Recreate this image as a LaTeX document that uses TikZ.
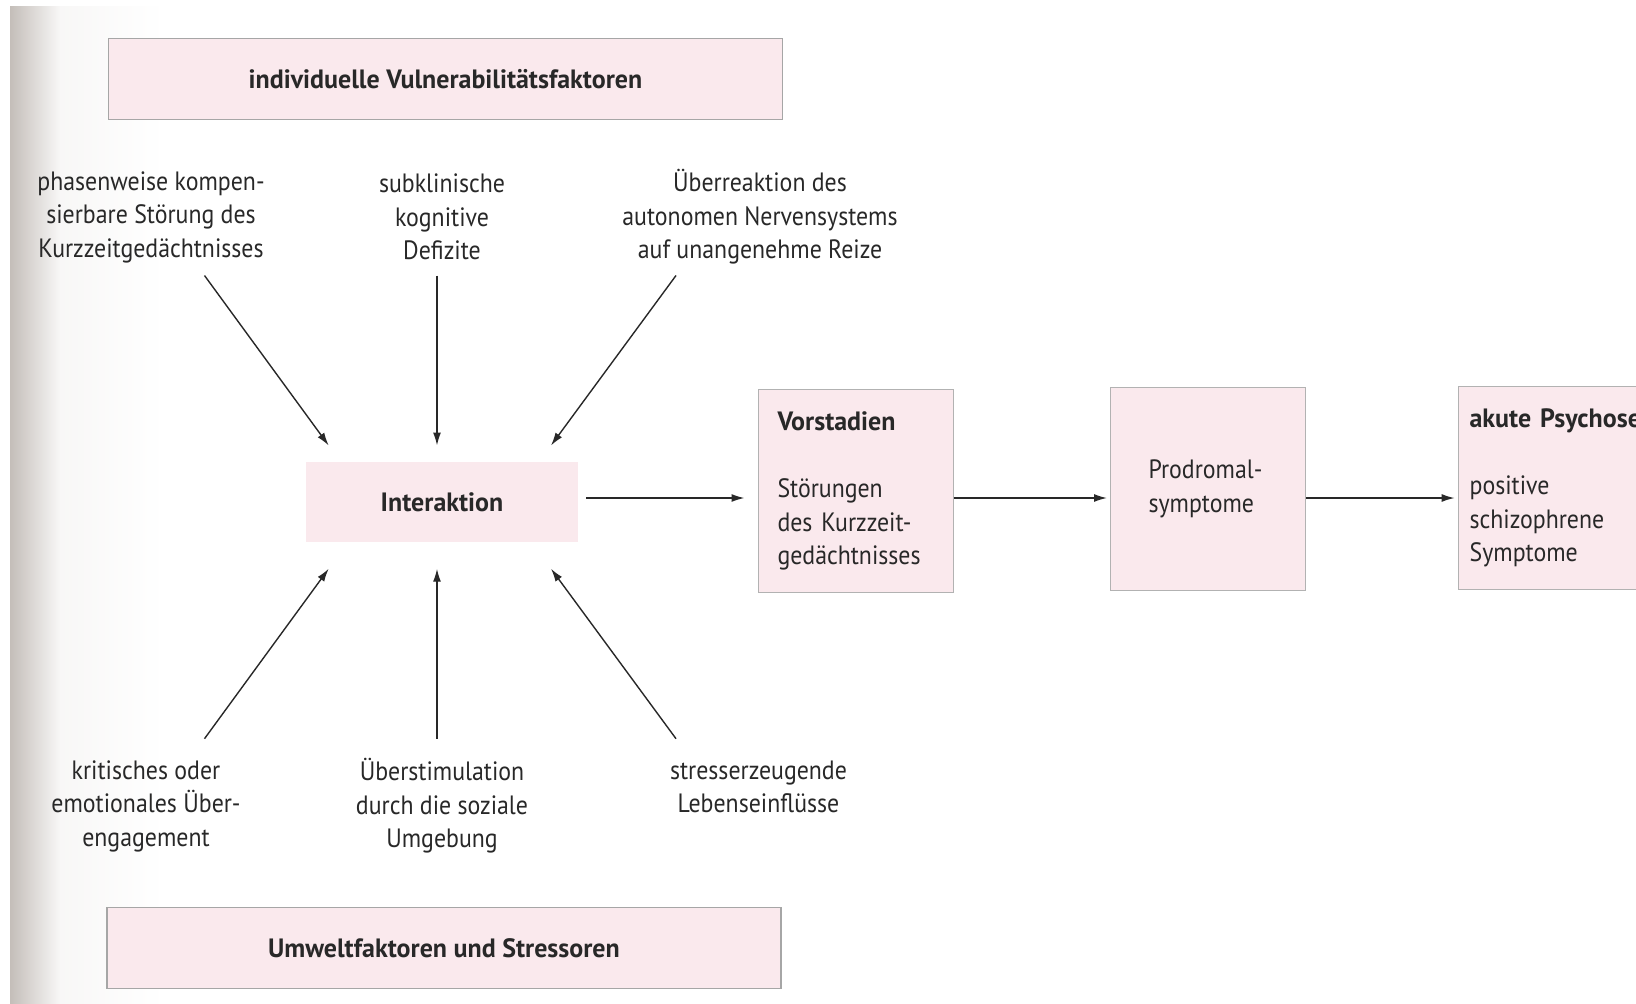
\documentclass[tikz,border=0pt]{standalone}
\usepackage{fontspec}
\setmainfont[FakeStretch=0.9, BoldFeatures={FakeStretch=0.98}]{PT Sans}
\usetikzlibrary{arrows.meta}
\definecolor{boxpink}{RGB}{250,233,237}
\definecolor{ink}{RGB}{40,40,40}
\definecolor{stripgray}{RGB}{196,190,185}
\tikzset{
  txt/.style={font=\fontsize{26.5}{33.5}\selectfont, text=ink, align=center},
  band/.style={txt, fill=boxpink, draw=gray!70, line width=1.2pt, minimum width=674pt, minimum height=81pt},
  stage/.style={txt, fill=boxpink, draw=gray!60, line width=1pt, align=left, minimum height=203pt, inner ysep=0pt},
  arr/.style={draw=ink, line width=1.4pt, -{Latex[length=13pt,width=8pt]}}
}
\begin{document}
\begin{tikzpicture}[x=1pt,y=-1pt]
  \useasboundingbox (0,0) rectangle (1636,1004);
  % page shadow
  \shade[left color=stripgray, right color=white!88!stripgray] (10,6) rectangle (60,1004);
  \shade[left color=white!88!stripgray, right color=white] (60,6) rectangle (165,1004);
  % factor bands
  \node[band] (vuln) at (445.5,79.3) {\textbf{individuelle Vulnerabilitätsfaktoren}};
  \node[band] (umwelt) at (444,948) {\textbf{Umweltfaktoren und Stressoren}};
  % interaction
  \node[txt, fill=boxpink, minimum width=272pt, minimum height=80pt] (inter) at (442,502) {\textbf{Interaktion}};
  % vulnerability factors
  \node[txt] (kzg) at (151,217) {phasenweise kompen-\\sierbare Störung des\\Kurzzeitgedächtnisses};
  \node[txt] (kog) at (442,217) {subklinische\\kognitive\\Defizite};
  \node[txt] (ans) at (760,217) {Überreaktion des\\autonomen Nervensystems\\auf unangenehme Reize};
  % stressors
  \node[txt] (emo) at (146,806) {kritisches oder\\emotionales Über-\\engagement};
  \node[txt] (sozial) at (442,806) {Überstimulation\\durch die soziale\\Umgebung};
  \node[txt] (stress) at (758.5,787) {stresserzeugende\\Lebenseinflüsse};
  % stages
  \node[stage, anchor=west, inner xsep=19.5pt, text width=156pt] (vor) at (757.5,491)
    {\textbf{Vorstadien}\\[33.5pt] Störungen\\ des Kurzzeit-\\ gedächtnisses};
  \node[stage, anchor=west, inner xsep=38pt, text width=119pt] (prod) at (1110,489)
    {Prodromal-\\symptome};
  \node[stage, anchor=west, inner xsep=11.5pt, text width=172pt] (akut) at (1457.6,488)
    {\textbf{akute Psychose}\\[33.5pt] positive\\ schizophrene\\ Symptome};
  % arrows into the interaction
  \foreach \i/\sx/\ex in {1/204.5/328.7, 2/437/437, 3/676/551} {
    \coordinate (up\i) at (\sx,275.5);
    \coordinate (upend\i) at (\ex,445.5);
    \coordinate (lo\i) at (\sx,738.7);
    \coordinate (loend\i) at (\ex,568.7);
    \draw[arr] (up\i) -- (upend\i);
    \draw[arr] (lo\i) -- (loend\i);
  }
  % course of the illness
  \coordinate (flow) at (0,498);
  \draw[arr, shorten <=8pt, shorten >=13pt] (inter.east |- flow) -- (vor.west |- flow);
  \draw[arr, shorten >=3pt] (vor.east |- flow) -- (prod.west |- flow);
  \draw[arr, shorten >=3pt] (prod.east |- flow) -- (akut.west |- flow);
\end{tikzpicture}
\end{document}
